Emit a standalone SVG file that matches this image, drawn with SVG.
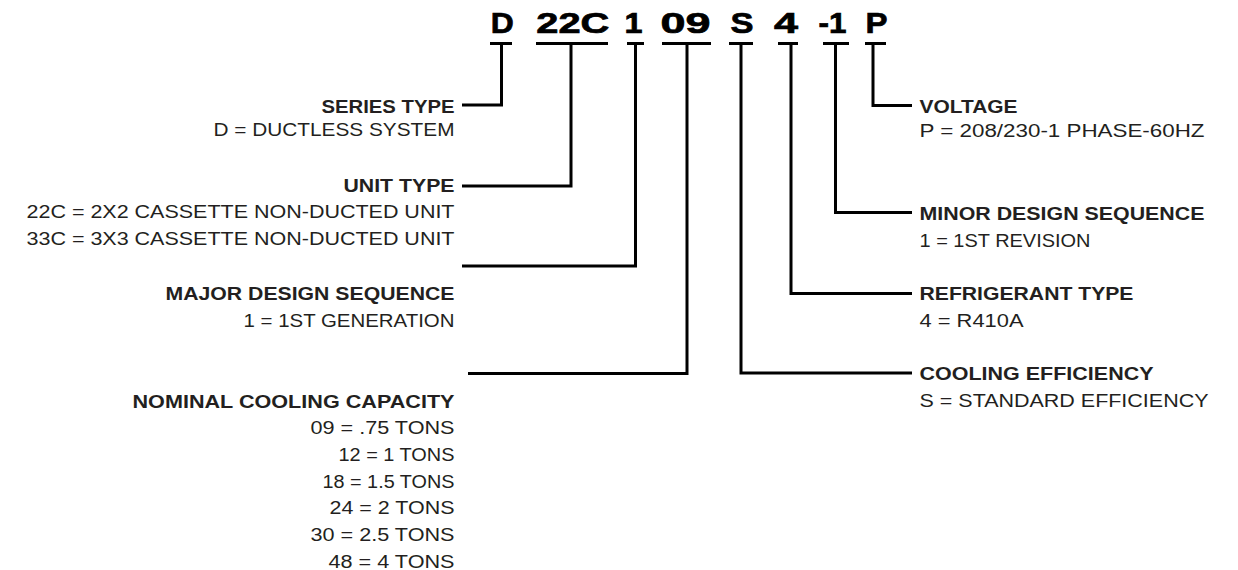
<svg xmlns="http://www.w3.org/2000/svg" width="1238" height="570" viewBox="0 0 1238 570">
<style>
  .code { font-family: "Liberation Sans", Arial, sans-serif; font-weight: 700; font-size: 30px; fill: #000; stroke: #000; stroke-width: 0.7; text-anchor: middle; }
  .t { font-family: "Liberation Sans", Arial, sans-serif; font-weight: 700; font-size: 17.5px; fill: #231f20; }
  .d { font-family: "Liberation Sans", Arial, sans-serif; font-weight: 400; font-size: 17.5px; fill: #231f20; }
  .l { text-anchor: end; }
  .ul { stroke: #000; stroke-width: 3; }
  .c { fill: none; stroke: #000; stroke-width: 3; stroke-linejoin: miter; stroke-linecap: butt; }
</style>
<rect width="1238" height="570" fill="#fff"/>

<g id="code">
  <text class="code" x="502.2" y="33" textLength="23" lengthAdjust="spacingAndGlyphs">D</text>
  <text class="code" x="572.8" y="33" textLength="73" lengthAdjust="spacingAndGlyphs">22C</text>
  <text class="code" x="633.5" y="33" textLength="18" lengthAdjust="spacingAndGlyphs">1</text>
  <text class="code" x="685.5" y="33" textLength="50" lengthAdjust="spacingAndGlyphs">09</text>
  <text class="code" x="742" y="33" textLength="23" lengthAdjust="spacingAndGlyphs">S</text>
  <text class="code" x="786" y="33" textLength="24" lengthAdjust="spacingAndGlyphs">4</text>
  <text class="code" x="832.5" y="33" textLength="28" lengthAdjust="spacingAndGlyphs">-1</text>
  <text class="code" x="876.5" y="33" textLength="22" lengthAdjust="spacingAndGlyphs">P</text>
</g>

<g id="connectors">
  <line class="ul" x1="490" y1="43.5" x2="512" y2="43.5"/>
  <line class="ul" x1="536" y1="43.5" x2="608" y2="43.5"/>
  <line class="ul" x1="627" y1="43.5" x2="644" y2="43.5"/>
  <line class="ul" x1="662" y1="43.5" x2="711" y2="43.5"/>
  <line class="ul" x1="729" y1="43.5" x2="753" y2="43.5"/>
  <line class="ul" x1="778" y1="43.5" x2="798" y2="43.5"/>
  <line class="ul" x1="823" y1="43.5" x2="849" y2="43.5"/>
  <line class="ul" x1="865" y1="43.5" x2="886" y2="43.5"/>

  <polyline class="c" points="501.5,43.5 501.5,105 462,105"/>
  <polyline class="c" points="571,43.5 571,186 462,186"/>
  <polyline class="c" points="635.5,43.5 635.5,266 462,266"/>
  <polyline class="c" points="687,43.5 687,373.5 468,373.5"/>
  <polyline class="c" points="741,43.5 741,373 912,373"/>
  <polyline class="c" points="791,43.5 791,293.5 912,293.5"/>
  <polyline class="c" points="835.5,43.5 835.5,212.5 912,212.5"/>
  <polyline class="c" points="873,43.5 873,105.5 912,105.5"/>
</g>

<g id="series-type">
  <text class="t l" x="454.5" y="112.5" textLength="133" lengthAdjust="spacingAndGlyphs">SERIES TYPE</text>
  <text class="d l" x="454.5" y="135.5" textLength="241" lengthAdjust="spacingAndGlyphs">D = DUCTLESS SYSTEM</text>
</g>

<g id="unit-type">
  <text class="t l" x="454.5" y="191.5" textLength="111" lengthAdjust="spacingAndGlyphs">UNIT TYPE</text>
  <text class="d l" x="454.5" y="217.5" textLength="428" lengthAdjust="spacingAndGlyphs">22C = 2X2 CASSETTE NON-DUCTED UNIT</text>
  <text class="d l" x="454.5" y="244.5" textLength="428" lengthAdjust="spacingAndGlyphs">33C = 3X3 CASSETTE NON-DUCTED UNIT</text>
</g>

<g id="major-design-sequence">
  <text class="t l" x="454.5" y="299.5" textLength="289" lengthAdjust="spacingAndGlyphs">MAJOR DESIGN SEQUENCE</text>
  <text class="d l" x="454.5" y="326.5" textLength="211" lengthAdjust="spacingAndGlyphs">1 = 1ST GENERATION</text>
</g>

<g id="nominal-cooling-capacity">
  <text class="t l" x="454.5" y="407.7" textLength="322" lengthAdjust="spacingAndGlyphs">NOMINAL COOLING CAPACITY</text>
  <text class="d l" x="454.5" y="434.3" textLength="144" lengthAdjust="spacingAndGlyphs">09 = .75 TONS</text>
  <text class="d l" x="454.5" y="461" textLength="116" lengthAdjust="spacingAndGlyphs">12 = 1 TONS</text>
  <text class="d l" x="454.5" y="487.7" textLength="132" lengthAdjust="spacingAndGlyphs">18 = 1.5 TONS</text>
  <text class="d l" x="454.5" y="514.3" textLength="125" lengthAdjust="spacingAndGlyphs">24 = 2 TONS</text>
  <text class="d l" x="454.5" y="541" textLength="144" lengthAdjust="spacingAndGlyphs">30 = 2.5 TONS</text>
  <text class="d l" x="454.5" y="567.7" textLength="126" lengthAdjust="spacingAndGlyphs">48 = 4 TONS</text>
</g>

<g id="voltage">
  <text class="t" x="919.5" y="112.5" textLength="98" lengthAdjust="spacingAndGlyphs">VOLTAGE</text>
  <text class="d" x="919.5" y="136.5" textLength="285" lengthAdjust="spacingAndGlyphs">P = 208/230-1 PHASE-60HZ</text>
</g>

<g id="minor-design-sequence">
  <text class="t" x="919.5" y="219.5" textLength="285" lengthAdjust="spacingAndGlyphs">MINOR DESIGN SEQUENCE</text>
  <text class="d" x="919.5" y="246.5" textLength="171" lengthAdjust="spacingAndGlyphs">1 = 1ST REVISION</text>
</g>

<g id="refrigerant-type">
  <text class="t" x="919.5" y="299.5" textLength="214" lengthAdjust="spacingAndGlyphs">REFRIGERANT TYPE</text>
  <text class="d" x="919.5" y="326.5" textLength="104" lengthAdjust="spacingAndGlyphs">4 = R410A</text>
</g>

<g id="cooling-efficiency">
  <text class="t" x="919.5" y="379.5" textLength="234" lengthAdjust="spacingAndGlyphs">COOLING EFFICIENCY</text>
  <text class="d" x="919.5" y="406.5" textLength="289" lengthAdjust="spacingAndGlyphs">S = STANDARD EFFICIENCY</text>
</g>
</svg>
